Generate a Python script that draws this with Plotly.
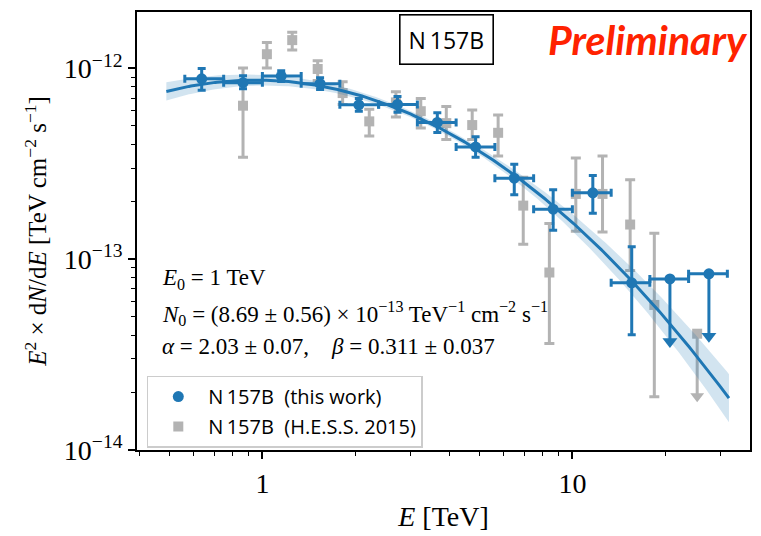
import numpy as np
import plotly.graph_objects as go

BLUE = "#1f77b4"
GREY = "#b3b3b3"
SERIF = "Liberation Serif"
SANS = "Open Sans"

# ---------------- N 157B, this work: flux points ----------------
e_this = [0.637, 0.866, 1.15, 1.535, 2.047, 2.728, 3.667, 4.873, 6.494, 8.67, 11.64, 15.54]
e_this_lo = [0.562, 0.750, 1.000, 1.334, 1.778, 2.371, 3.162, 4.217, 5.623, 7.499, 10.00, 13.34]
e_this_hi = [0.750, 1.000, 1.334, 1.778, 2.371, 3.162, 4.217, 5.623, 7.499, 10.00, 13.34, 17.78]
flux_this = [8.83e-13, 8.42e-13, 9.12e-13, 8.32e-13, 6.45e-13, 6.48e-13,
             5.21e-13, 3.88e-13, 2.66e-13, 1.83e-13, 2.23e-13, 7.52e-14]
flux_this_err_hi = [1.17e-13, 0.73e-13, 0.61e-13, 0.61e-13, 0.51e-13, 0.65e-13,
                    0.65e-13, 0.50e-13, 0.49e-13, 0.48e-13, 0.52e-13, 4.1e-14]
flux_this_err_lo = [1.15e-13, 0.58e-13, 0.58e-13, 0.57e-13, 0.48e-13, 0.58e-13,
                    0.59e-13, 0.46e-13, 0.48e-13, 0.41e-13, 0.49e-13, 3.5e-14]

# upper limits (this work)
e_this_ul = [20.64, 27.57]
e_this_ul_lo = [17.78, 23.71]
e_this_ul_hi = [23.71, 31.62]
flux_this_ul = [7.88e-14, 8.39e-14]

# ---------------- N 157B, H.E.S.S. 2015 ----------------
e_hess = [0.866, 1.034, 1.248, 1.508, 1.815, 2.212, 2.696, 3.243, 3.920,
          4.752, 5.761, 6.942, 8.429, 10.26, 12.51, 15.36, 18.38]
flux_hess = [6.38e-13, 1.188e-12, 1.408e-12, 9.94e-13, 7.43e-13, 5.28e-13,
             6.64e-13, 5.97e-13, 5.17e-13, 5.05e-13, 4.60e-13, 1.91e-13,
             8.52e-14, 2.20e-13, 2.20e-13, 1.52e-13, 5.76e-14]
flux_hess_up = [1.006e-12, 1.369e-12, 1.548e-12, 1.097e-12, 8.52e-13, 6.11e-13,
                7.56e-13, 6.96e-13, 6.31e-13, 6.06e-13, 5.71e-13, 2.69e-13,
                1.54e-13, 3.39e-13, 3.48e-13, 2.61e-13, 1.37e-13]
flux_hess_down = [3.42e-13, 1.006e-12, 1.250e-12, 8.65e-13, 6.48e-13, 4.43e-13,
                  5.56e-13, 4.88e-13, 4.24e-13, 4.24e-13, 3.48e-13, 1.20e-13,
                  3.62e-14, 1.40e-13, 1.39e-13, 8.72e-14, 1.90e-14]
e_hess_ul = [25.27]
flux_hess_ul = [4.07e-14]

# ---------------- log-parabola fit ----------------
E0 = 1.0
N0, N0_err = 8.69e-13, 0.56e-13
alpha, alpha_err = 2.03, 0.07
beta, beta_err = 0.311, 0.037
# parameter correlation matrix (ln N0, alpha, beta)
corr = np.array([[1.00, 0.57, -0.02],
                 [0.57, 1.00, -0.74],
                 [-0.02, -0.74, 1.00]])
fit_emin, fit_emax = 0.49, 32.0

# where upper-limit arrows end, as fraction of the limit
ul_arrow_frac = 0.47


def e2dnde(e):
    x = e / E0
    return N0 * e**2 * x ** (-alpha - beta * np.log(x))


e_fit = np.geomspace(fit_emin, fit_emax, 300)
f_fit = e2dnde(e_fit)
sig = np.array([N0_err / N0, alpha_err, beta_err])
cov = corr * np.outer(sig, sig)
L = np.log(e_fit / E0)
grad = np.vstack([np.ones_like(L), -L, -L**2])
sigma_ln = np.sqrt(np.einsum("in,ij,jn->n", grad, cov, grad))
f_band_hi = f_fit * np.exp(sigma_ln)
f_band_lo = f_fit * np.exp(-sigma_ln)

fig = go.Figure()

# H.E.S.S. 2015 points
flux_hess_a = np.array(flux_hess)
fig.add_trace(go.Scatter(
    x=e_hess, y=flux_hess, mode="markers", name="N\u2009157B  (H.E.S.S. 2015)",
    legendrank=2, legendgroup="hess",
    marker=dict(symbol="square", size=10, color=GREY),
    error_y=dict(type="data", symmetric=False,
                 array=np.array(flux_hess_up) - flux_hess_a,
                 arrayminus=flux_hess_a - np.array(flux_hess_down),
                 color=GREY, thickness=3, width=5),
))
hess_ul_a = np.array(flux_hess_ul)
fig.add_trace(go.Scatter(
    x=e_hess_ul, y=flux_hess_ul, mode="markers", showlegend=False,
    legendgroup="hess",
    marker=dict(symbol="square", size=10, color=GREY),
    error_y=dict(type="data", symmetric=False, array=[0] * len(e_hess_ul),
                 arrayminus=hess_ul_a * (1 - ul_arrow_frac),
                 color=GREY, thickness=3, width=0),
))
fig.add_trace(go.Scatter(
    x=e_hess_ul, y=hess_ul_a * ul_arrow_frac, mode="markers", showlegend=False,
    legendgroup="hess",
    marker=dict(symbol="triangle-down", size=12, color=GREY),
))

# fit band and curve
fig.add_trace(go.Scatter(x=e_fit, y=f_band_hi, mode="lines", line=dict(width=0),
                         showlegend=False, hoverinfo="skip", legendgroup="fit"))
fig.add_trace(go.Scatter(x=e_fit, y=f_band_lo, mode="lines", line=dict(width=0),
                         fill="tonexty", fillcolor="rgba(31,119,180,0.2)",
                         showlegend=False, hoverinfo="skip", legendgroup="fit"))
fig.add_trace(go.Scatter(x=e_fit, y=f_fit, mode="lines", legendgroup="fit",
                         line=dict(color=BLUE, width=3), showlegend=False))

# this work: points
e_this_a = np.array(e_this)
fig.add_trace(go.Scatter(
    x=e_this, y=flux_this, mode="markers", name="N\u2009157B  (this work)",
    legendrank=1, legendgroup="this",
    marker=dict(symbol="circle", size=11, color=BLUE),
    error_x=dict(type="data", symmetric=False,
                 array=np.array(e_this_hi) - e_this_a,
                 arrayminus=e_this_a - np.array(e_this_lo),
                 color=BLUE, thickness=3, width=4),
    error_y=dict(type="data", symmetric=False, array=flux_this_err_hi,
                 arrayminus=flux_this_err_lo, color=BLUE, thickness=3, width=4),
))
e_ul_a = np.array(e_this_ul)
ul_a = np.array(flux_this_ul)
fig.add_trace(go.Scatter(
    x=e_this_ul, y=flux_this_ul, mode="markers", showlegend=False,
    legendgroup="this",
    marker=dict(symbol="circle", size=11, color=BLUE),
    error_x=dict(type="data", symmetric=False,
                 array=np.array(e_this_ul_hi) - e_ul_a,
                 arrayminus=e_ul_a - np.array(e_this_ul_lo),
                 color=BLUE, thickness=3, width=4),
    error_y=dict(type="data", symmetric=False, array=[0] * len(e_this_ul),
                 arrayminus=ul_a * (1 - ul_arrow_frac),
                 color=BLUE, thickness=3, width=0),
))
fig.add_trace(go.Scatter(
    x=e_this_ul, y=ul_a * ul_arrow_frac, mode="markers", showlegend=False,
    legendgroup="this",
    marker=dict(symbol="triangle-down", size=13, color=BLUE),
))

# annotations
fig.add_annotation(x=0.505, y=0.937, xref="paper", yref="paper",
                   xanchor="center", yanchor="middle",
                   text="N\u2009157B", showarrow=False,
                   font=dict(family=SANS, size=23, color="black"),
                   bordercolor="black", borderwidth=1.6, borderpad=8,
                   bgcolor="white")
fig.add_annotation(x=0.834, y=0.937, xref="paper", yref="paper",
                   xanchor="center", yanchor="middle",
                   text="Preliminary", showarrow=False,
                   font=dict(family="Lato", size=41, color="#ff2200",
                             weight="bold", style="italic"))
param_lines = [
    "<i>E</i><sub>0</sub> = 1 TeV",
    "<i>N</i><sub>0</sub> = (8.69 ± 0.56) × 10<sup>−13</sup> TeV<sup>−1</sup> cm<sup>−2</sup> s<sup>−1</sup>",
    "<i>α</i> = 2.03 ± 0.07,    <i>β</i> = 0.311 ± 0.037",
]
for yy, txt in zip([0.391, 0.312, 0.236], param_lines):
    fig.add_annotation(x=0.037, y=yy, xref="paper", yref="paper",
                       xanchor="left", yanchor="middle", text=txt,
                       showarrow=False,
                       font=dict(family=SERIF, size=23, color="black"))

axis_common = dict(
    type="log", showline=True, linecolor="black", linewidth=1.8, mirror=True,
    ticks="outside", ticklen=7, tickwidth=1.6, tickcolor="black",
    showgrid=False, zeroline=False,
    tickfont=dict(family=SERIF, size=28, color="black"),
)

fig.update_layout(
    width=761, height=536,
    margin=dict(l=137, r=9, t=12, b=79),
    paper_bgcolor="white", plot_bgcolor="white",
    showlegend=True,
    legend=dict(x=0.016, y=0.17, xanchor="left", yanchor="top",
                bgcolor="rgba(255,255,255,0.85)", bordercolor="#cccccc",
                borderwidth=1.5, font=dict(family=SANS, size=20, color="black"),
                traceorder="grouped", tracegroupgap=1, itemwidth=50),
    xaxis=dict(
        **axis_common,
        range=[-0.4045, 1.573],
        tickvals=[1, 10], ticktext=["1", "10"],
        minor=dict(ticks="outside", ticklen=4, tickwidth=1.3, tickcolor="black",
                   tickvals=[0.4, 0.5, 0.6, 0.7, 0.8, 0.9, 2, 3, 4, 5, 6, 7, 8, 9, 20, 30]),
        title=dict(text="<i>E</i> [TeV]", standoff=9,
                   font=dict(family=SERIF, size=28, color="black")),
    ),
    yaxis=dict(
        **axis_common,
        range=[-14, -11.704],
        tickvals=[1e-14, 1e-13, 1e-12],
        ticktext=["10<sup>−14</sup>", "10<sup>−13</sup>", "10<sup>−12</sup>"],
        minor=dict(ticks="outside", ticklen=4, tickwidth=1.3, tickcolor="black",
                   tickvals=[k * 1e-14 for k in range(2, 10)]
                   + [k * 1e-13 for k in range(2, 10)] + [2e-12]),
        title=dict(text="<i>E</i><sup>2</sup> × d<i>N</i>/d<i>E</i> [TeV cm<sup>−2</sup> s<sup>−1</sup>]",
                   standoff=10, font=dict(family=SERIF, size=25, color="black")),
    ),
)

fig.write_html("out.html")
